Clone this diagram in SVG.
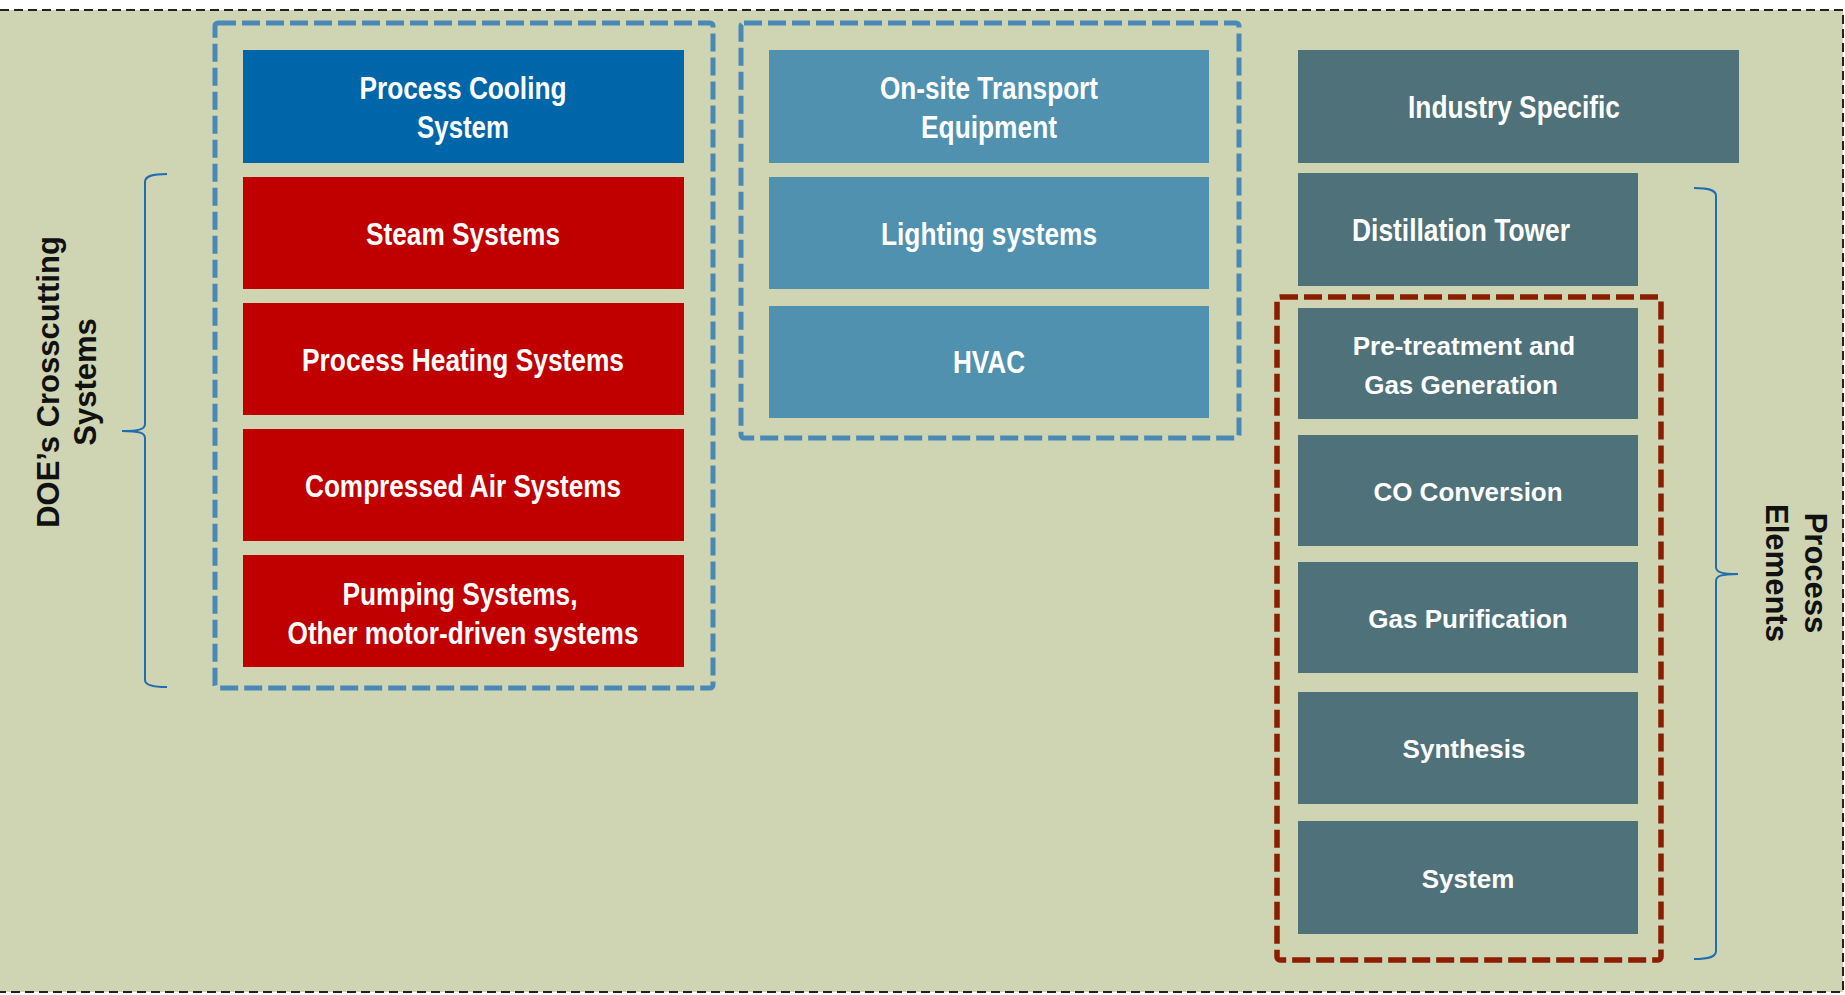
<svg xmlns="http://www.w3.org/2000/svg" width="1845" height="995" viewBox="0 0 1845 995">
<style>
.bg{fill:#CFD4B2}
.outer{fill:none;stroke:#222;stroke-width:2;stroke-dasharray:9 5}
.bluegrp{fill:none;stroke:#4A89B6;stroke-width:5;stroke-dasharray:18 6}
.redgrp{fill:none;stroke:#8B1E00;stroke-width:5.5;stroke-dasharray:18 6}
.cool{fill:#0066AA}
.red{fill:#C00000}
.mid{fill:#4F91AF}
.slate{fill:#4F717A}
.tn{font-family:"Liberation Sans Narrow","Liberation Sans",Arial,sans-serif;font-weight:bold;font-size:31px;fill:#fff;text-anchor:middle}
.tw{font-family:"Liberation Sans",Arial,sans-serif;font-weight:bold;font-size:26px;fill:#fff;text-anchor:middle}
.lbl{font-family:"Liberation Sans",Arial,sans-serif;font-weight:bold;font-size:31px;fill:#111;text-anchor:middle}
.brace{fill:none;stroke:#1F6DB0;stroke-width:2}
</style>
<rect x="0" y="0" width="1845" height="995" fill="#fff"/>
<rect class="bg" x="0" y="10" width="1843" height="982"/>
<path class="outer" d="M0,10 H1843 V992 H0"/>

<g id="group-left"><rect class="bluegrp" x="215" y="23" width="498" height="665" rx="3"/></g>
<g id="group-mid"><rect class="bluegrp" x="741" y="23" width="498" height="415" rx="3"/></g>
<g id="group-red"><rect class="redgrp" x="1277" y="297" width="384" height="663" rx="3"/></g>

<g id="process-cooling"><rect class="cool" x="243" y="50" width="441" height="113"/>
<text class="tn"><tspan x="463" y="99" textLength="207" lengthAdjust="spacingAndGlyphs">Process Cooling</tspan><tspan x="463" y="138" textLength="92" lengthAdjust="spacingAndGlyphs">System</tspan></text></g>
<g id="steam"><rect class="red" x="243" y="177" width="441" height="112"/>
<text class="tn" x="463" y="245" textLength="194" lengthAdjust="spacingAndGlyphs">Steam Systems</text></g>
<g id="process-heating"><rect class="red" x="243" y="303" width="441" height="112"/>
<text class="tn" x="463" y="371" textLength="322" lengthAdjust="spacingAndGlyphs">Process Heating Systems</text></g>
<g id="compressed-air"><rect class="red" x="243" y="429" width="441" height="112"/>
<text class="tn" x="463" y="497" textLength="316" lengthAdjust="spacingAndGlyphs">Compressed Air Systems</text></g>
<g id="pumping"><rect class="red" x="243" y="555" width="441" height="112"/>
<text class="tn"><tspan x="460" y="605" textLength="235" lengthAdjust="spacingAndGlyphs">Pumping Systems,</tspan><tspan x="463" y="644" textLength="351" lengthAdjust="spacingAndGlyphs">Other motor-driven systems</tspan></text></g>

<g id="onsite-transport"><rect class="mid" x="769" y="50" width="440" height="113"/>
<text class="tn"><tspan x="989" y="99" textLength="218" lengthAdjust="spacingAndGlyphs">On-site Transport</tspan><tspan x="989" y="138" textLength="136" lengthAdjust="spacingAndGlyphs">Equipment</tspan></text></g>
<g id="lighting"><rect class="mid" x="769" y="177" width="440" height="112"/>
<text class="tn" x="989" y="245" textLength="216" lengthAdjust="spacingAndGlyphs">Lighting systems</text></g>
<g id="hvac"><rect class="mid" x="769" y="306" width="440" height="112"/>
<text class="tn" x="989" y="373" textLength="72" lengthAdjust="spacingAndGlyphs">HVAC</text></g>

<g id="industry-specific"><rect class="slate" x="1298" y="50" width="441" height="113"/>
<text class="tn" x="1514" y="118" textLength="212" lengthAdjust="spacingAndGlyphs">Industry Specific</text></g>
<g id="distillation"><rect class="slate" x="1298" y="173" width="340" height="113"/>
<text class="tn" x="1461" y="241" textLength="218" lengthAdjust="spacingAndGlyphs">Distillation Tower</text></g>
<g id="pretreatment"><rect class="slate" x="1298" y="308" width="340" height="111"/>
<text class="tw"><tspan x="1464" y="355">Pre-treatment and</tspan><tspan x="1461" y="394">Gas Generation</tspan></text></g>
<g id="co-conversion"><rect class="slate" x="1298" y="435" width="340" height="111"/>
<text class="tw" x="1468" y="501">CO Conversion</text></g>
<g id="gas-purification"><rect class="slate" x="1298" y="562" width="340" height="111"/>
<text class="tw" x="1468" y="628">Gas Purification</text></g>
<g id="synthesis"><rect class="slate" x="1298" y="692" width="340" height="112"/>
<text class="tw" x="1464" y="758">Synthesis</text></g>
<g id="system"><rect class="slate" x="1298" y="821" width="340" height="113"/>
<text class="tw" x="1468" y="888">System</text></g>

<g id="label-doe"><text class="lbl" transform="translate(0,382) rotate(-90)"><tspan x="0" y="59">DOE’s Crosscutting</tspan><tspan x="0" y="96">Systems</tspan></text></g>
<g id="label-process"><text class="lbl" transform="translate(1845,573) rotate(90)"><tspan x="0" y="40">Process</tspan><tspan x="0" y="79">Elements</tspan></text></g>

<g id="connectors">
<path class="brace" d="M167,174 C152,174 145,176 145,182 L145,424 C145,429 140,431 122,431 C140,431 145,433 145,438 L145,680 C145,685 152,687 167,687"/>
<path class="brace" d="M1694,188 C1709,188 1716,190 1716,196 L1716,567 C1716,572 1721,574 1738,574 C1721,574 1716,576 1716,581 L1716,951 C1716,957 1709,959 1694,959"/>
</g>
</svg>
